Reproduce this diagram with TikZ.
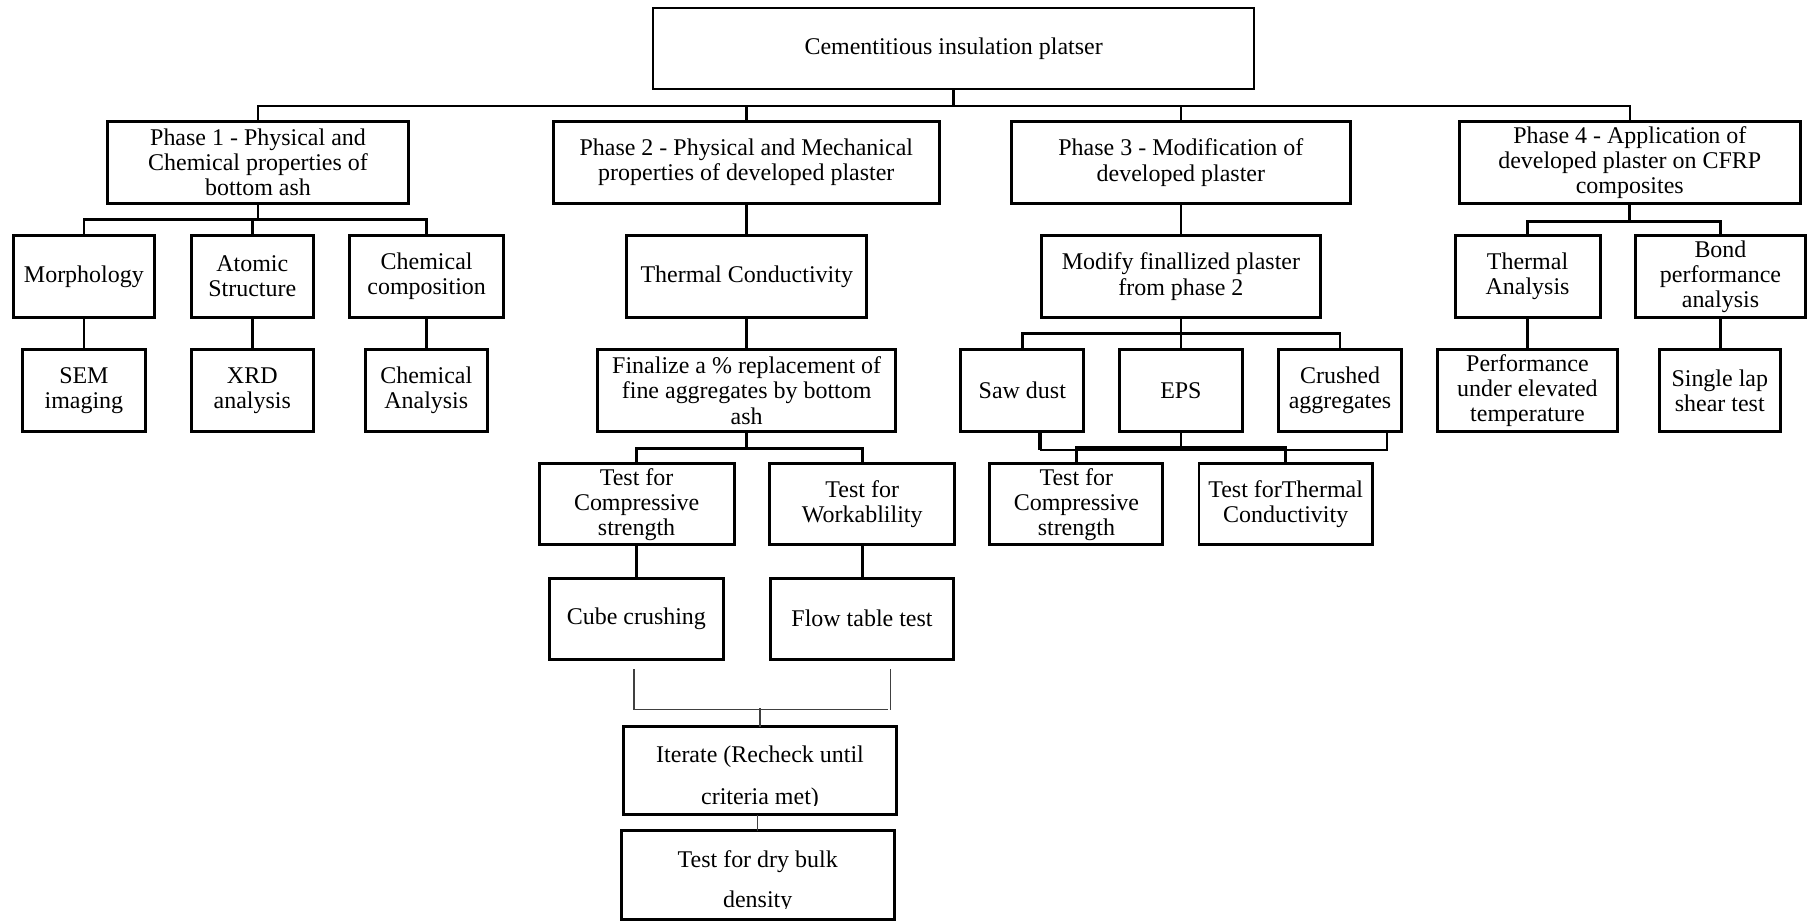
\documentclass[tikz,border=0pt]{standalone}
\usepackage{fontspec}
\setmainfont{Liberation Serif}
\begin{document}
\begin{tikzpicture}[x=0.5pt,y=-0.5pt,
  bx/.style 2 args={draw, line width=1.3pt, inner sep=0pt, align=center,
    minimum width=#1*0.5pt, minimum height=#2*0.5pt,
    font=\fontsize{10.4}{10.9}\selectfont},
  cn/.style={line width=1.15pt},
  bus/.style={line width=0.9pt},
  thinln/.style={line width=0.55pt, draw=black!75}
]
\useasboundingbox (0,0) rectangle (1568,799);

% top
\node[bx={521}{70.5}, line width=0.9pt] (main) at (827.5,42.3) {Cementitious insulation platser};

% phases
\node[bx={261.2}{70.6}] (p1) at (223.9,141.1) {Phase 1 - Physical and\\Chemical properties of\\bottom ash};
\node[bx={335}{70.6}] (p2) at (647.6,141.1) {Phase 2 - Physical and Mechanical\\properties of developed plaster};
\node[bx={293.6}{70.6}] (p3) at (1024.7,141.1) {Phase 3 - Modification of\\developed plaster};
\node[bx={295.7}{70.6}] (p4) at (1414.2,141.1) {Phase 4 - Application of\\developed plaster on CFRP\\composites};

% level 2
\node[bx={122.9}{70.7}] (morph) at (72.8,240) {Morphology};
\node[bx={106.2}{70.7}] (atom) at (218.9,240) {Atomic\\Structure};
\node[bx={133.5}{70.7}] (chemc) at (370.2,240) {Chemical\\composition};
\node[bx={208.3}{70.7}] (tc) at (648,240) {Thermal Conductivity};
\node[bx={241.5}{70.7}] (mod) at (1024.7,240) {Modify finallized plaster\\from phase 2};
\node[bx={125.8}{70.7}] (ta) at (1325.5,240) {Thermal\\Analysis};
\node[bx={147}{70.7}] (bond) at (1492.9,240) {Bond\\performance\\analysis};

% level 3
\node[bx={106.4}{71.2}] (sem) at (72.8,338.9) {SEM\\imaging};
\node[bx={106.2}{71.2}] (xrd) at (218.9,338.9) {XRD\\analysis};
\node[bx={106.3}{71.2}] (chema) at (369.9,338.9) {Chemical\\Analysis};
\node[bx={258.6}{71.2}] (fin) at (647.9,338.9) {Finalize a \% replacement of\\fine aggregates by bottom\\ash};
\node[bx={107}{71.2}] (saw) at (887.1,338.9) {Saw dust};
\node[bx={106.7}{71.2}] (eps) at (1024.7,338.9) {EPS};
\node[bx={107}{71.2}] (crush) at (1162.8,338.9) {Crushed\\aggregates};
\node[bx={156.1}{71.2}] (perf) at (1325.4,338.9) {Performance\\under elevated\\temperature};
\node[bx={104.7}{71.2}] (slap) at (1492.3,338.9) {Single lap\\shear test};

% level 4
\node[bx={169.3}{70.6}] (tcomp2) at (552.4,437.6) {Test for\\Compressive\\strength};
\node[bx={160.5}{70.6}] (twork) at (748.2,437.6) {Test for\\Workablility};
\node[bx={150}{70.6}] (tcomp3) at (934,437.6) {Test for\\Compressive\\strength};
\node[bx={150.4}{70.6}] (ttherm) at (1115.6,437.6) {Test forThermal\\Conductivity};

% level 5
\node[bx={151}{70.3}] (cube) at (552.2,536.8) {Cube crushing};
\node[bx={158.5}{70.3}] (flow) at (748,536.8) {Flow table test};

% iterate and dry bulk density (text clipped at bottom as in the original)
\begin{scope}
\clip (500,600) rectangle (800,699);
\node[bx={234.4}{73.8}, draw=none] (it) at (659.5,668.7) {\rule{0pt}{13.2pt}Iterate (Recheck until\\[7.1pt]criteria met)};
\end{scope}
\draw[line width=1.3pt] (it.south west) rectangle (it.north east);
\begin{scope}
\clip (500,700) rectangle (800,788.6);
\node[bx={234.3}{74.5}, draw=none] (db) at (657.5,759.6) {\rule{0pt}{13.1pt}Test for dry bulk\\[6.5pt]density};
\end{scope}
\draw[line width=1.3pt] (db.south west) rectangle (db.north east);

% ---- connectors ----
\coordinate (tb) at (827.5,92);
\draw[cn] (main.south) -- (tb);
\draw[bus] (p1.north) |- (tb) -| (p4.north);
\draw[cn] (p2.north) -- (p2.north |- tb);
\draw[cn] (p3.north) -- (p3.north |- tb);

% phase 1
\coordinate (b1) at (223.9,190.3);
\draw[cn] (p1.south) -- (b1);
\draw[cn] (morph.north) |- (b1) -| (chemc.north);
\draw[cn] (atom.north) -- (atom.north |- b1);
\draw[cn] (morph.south) -- (sem.north);
\draw[cn] (atom.south) -- (xrd.north);
\draw[cn] (chemc.south) -- (chemc.south |- chema.north);

% phase 2
\draw[cn] (p2.south) -- (p2.south |- tc.north);
\draw[cn] (tc.south) -- (tc.south |- fin.north);
\coordinate (b2) at (647.9,389.1);
\draw[cn] (fin.south) -- (b2);
\draw[cn] (tcomp2.north) |- (b2) -| (twork.north);
\draw[cn] (tcomp2.south) -- (tcomp2.south |- cube.north);
\draw[cn] (twork.south) -- (twork.south |- flow.north);
\coordinate (kl) at (550.2,580.7);
\coordinate (kr) at (772.9,580.7);
\draw[thinln] (kl) -- (550.2,615.8) -- (770.8,615.8);
\draw[thinln] (kr) -- (772.9,615.8);
\draw[thinln] (it.north) -- ++(0,-15.9);
\draw[thinln] (it.south -| db.north) -- (db.north);

% phase 3
\draw[cn] (p3.south) -- (mod.north);
\coordinate (b3) at (1024.7,289.3);
\draw[cn] (mod.south) -- (b3);
\draw[cn] (saw.north) |- (b3) -| (crush.north);
\draw[cn] (eps.north) -- (b3);
\coordinate (sl) at (902.5,390.3);
\coordinate (cr) at (1203.3,390.3);
\draw[line width=1.7pt] (saw.south -| sl) -- (sl);
\draw[bus] (sl) -- (cr) -- (crush.south -| cr);
\coordinate (e1) at (1024.7,388.3);
\draw[cn] (eps.south) -- (e1);
\draw[cn] (tcomp3.north) |- (e1) -| (ttherm.north);

% phase 4
\coordinate (b4) at (1414.2,192.3);
\draw[cn] (p4.south) -- (b4);
\draw[cn] (ta.north) |- (b4) -| (bond.north);
\draw[cn] (ta.south) -- (ta.south |- perf.north);
\draw[cn] (bond.south) -- (bond.south |- slap.north);
\end{tikzpicture}
\end{document}
